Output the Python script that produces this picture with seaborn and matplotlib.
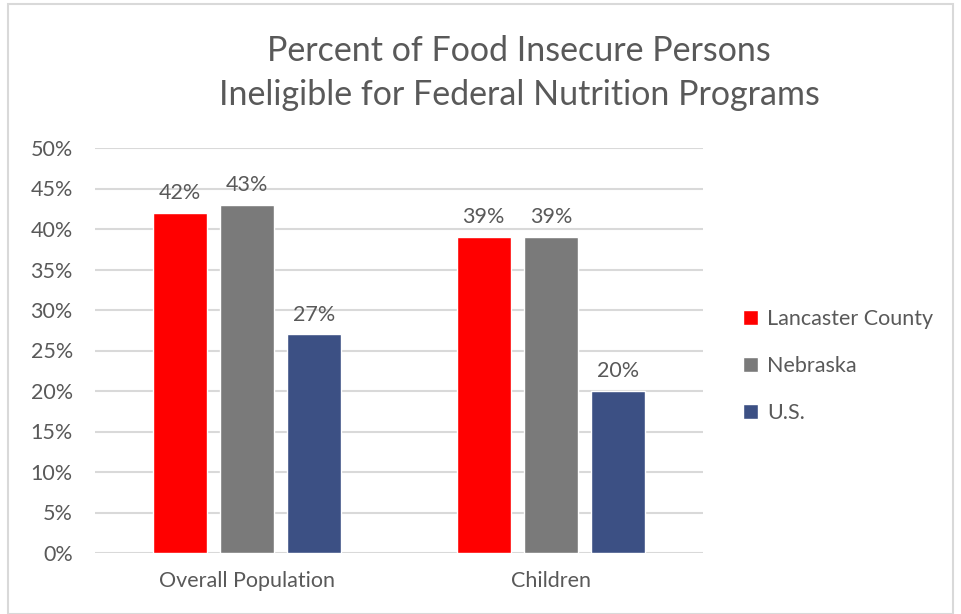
import matplotlib
matplotlib.use("Agg")
import matplotlib.pyplot as plt
import seaborn as sns
import pandas as pd
from matplotlib.patches import Rectangle
from matplotlib.ticker import PercentFormatter

categories = ["Overall Population", "Children"]
series = ["Lancaster County", "Nebraska", "U.S."]
lancaster = [0.42, 0.39]
nebraska = [0.43, 0.39]
us = [0.27, 0.20]
colors = ["#FF0000", "#7A7A7A", "#3C5084"]
title = "Percent of Food Insecure Persons\nIneligible for Federal Nutrition Programs"

rows = []
for s, vals in zip(series, [lancaster, nebraska, us]):
    for c, v in zip(categories, vals):
        rows.append({"Category": c, "Series": s, "Value": v})
df = pd.DataFrame(rows)

sns.set_theme(style="white")
plt.rcParams["font.family"] = ["Lato", "DejaVu Sans"]
txt = "#595959"
fs = 15.5

W, H = 961, 614
fig = plt.figure(figsize=(W / 100, H / 100), dpi=100)
fig.patch.set_facecolor("white")
fig.patches.append(Rectangle((8 / W, 0), (953 - 8) / W, (H - 4) / H, transform=fig.transFigure,
                             fill=False, edgecolor="#D9D9D9", linewidth=1.5))

ax = fig.add_axes([95 / W, 1 - 553 / H, (703 - 95) / W, (553 - 148) / H])
sns.barplot(data=df, x="Category", y="Value", hue="Series", order=categories,
            hue_order=series, palette=colors, width=0.666, gap=0.2, ax=ax,
            saturation=1, legend=True)

ax.set_ylim(0, 0.5)
ax.set_yticks([i * 0.05 for i in range(11)])
ax.yaxis.set_major_formatter(PercentFormatter(1.0, decimals=0))
ax.grid(axis="y", color="#D9D9D9", linewidth=1.5)
ax.set_axisbelow(True)
for sp in ax.spines.values():
    sp.set_visible(False)
ax.tick_params(axis="both", length=0, colors=txt, labelsize=fs)
ax.tick_params(axis="y", pad=16)
ax.tick_params(axis="x", pad=13)
ax.set_xlabel("")
ax.set_ylabel("")

for cont in ax.containers:
    ax.bar_label(cont, labels=[f"{v * 100:.0f}%" for v in cont.datavalues],
                 padding=7, color=txt, fontsize=fs)

handles, labels = ax.get_legend_handles_labels()
ax.legend(handles, labels, loc="center left", bbox_to_anchor=(724 / W, 1 - 366 / H),
          bbox_transform=fig.transFigure, frameon=False, fontsize=fs,
          labelcolor=txt, handlelength=0.7, handleheight=0.7, handletextpad=0.4,
          labelspacing=1.25)

fig.text(519 / W, 1 - 73 / H, title, ha="center", va="center", fontsize=24.5,
         color=txt, linespacing=1.45)

fig.savefig("out.png", dpi=100)
